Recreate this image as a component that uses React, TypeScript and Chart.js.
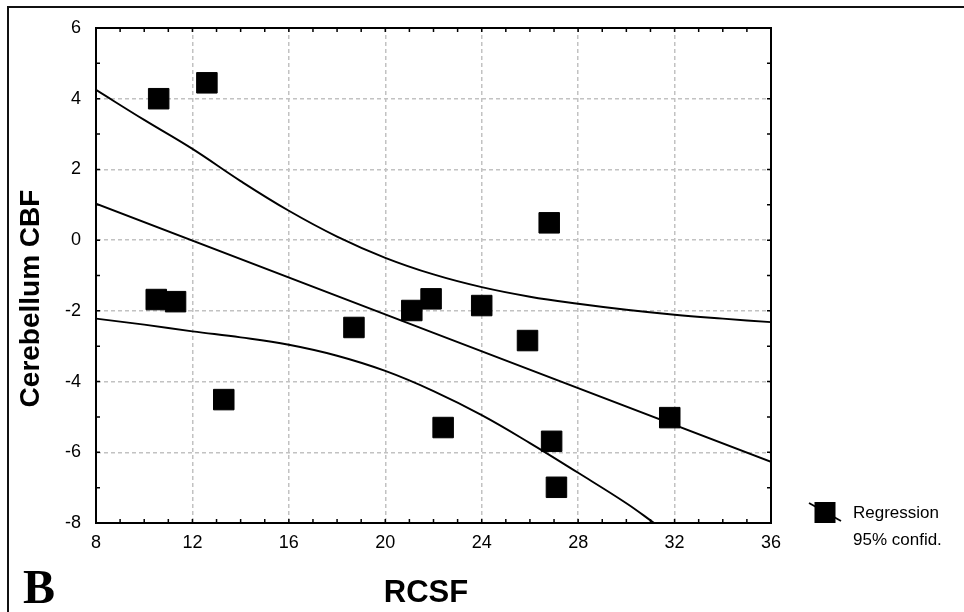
import React, { useEffect, useRef } from "react";
import { Chart, registerables } from "chart.js";

Chart.register(...registerables);

// Scatter observations (RCSF vs Cerebellum CBF)
const obsX = [10.6, 12.6, 10.5, 11.3, 13.3, 18.7, 21.1, 21.9, 22.4, 24.0, 25.9, 26.8, 26.9, 27.1, 31.8];
const obsY = [4.0, 4.45, -1.68, -1.74, -4.51, -2.47, -1.99, -1.66, -5.3, -1.85, -2.84, 0.49, -5.69, -6.99, -5.02];

// Regression line end points
const fitX = [8, 36];
const fitY = [1.03, -6.27];

// Upper 95% confidence band
const upperX = [8, 10, 12, 14, 16, 18, 20, 22, 24, 26, 28, 30, 32, 34, 36];
const upperY = [4.25, 3.4, 2.58, 1.67, 0.83, 0.1, -0.5, -0.97, -1.33, -1.6, -1.8, -1.97, -2.11, -2.22, -2.32];

// Lower 95% confidence band
const lowerX = [8, 10, 12, 14, 16, 18, 20, 22, 24, 26, 28, 30, 31.15];
const lowerY = [-2.22, -2.39, -2.58, -2.75, -2.96, -3.27, -3.7, -4.27, -4.95, -5.74, -6.58, -7.44, -8];

const xMin = 8, xMax = 36, xStep = 4;
const yMin = -8, yMax = 6, yStep = 2;

const xTitle = "RCSF";
const yTitle = "Cerebellum CBF";
const legendLines = ["Regression", "95% confid."];
const panelLabel = "B";

const FONT = "'Liberation Sans', Arial, sans-serif";

const toPts = (xs: number[], ys: number[]) => xs.map((x, i) => ({ x, y: ys[i] }));

const decorPlugin = {
  id: "decor",
  afterDraw(chart: any) {
    const ctx = chart.ctx as CanvasRenderingContext2D;
    const xs = chart.scales.x;
    const ys = chart.scales.y;
    const { left, right, top, bottom } = chart.chartArea;
    ctx.save();
    // inward tick marks on all four sides
    ctx.strokeStyle = "#000";
    ctx.lineWidth = 1.5;
    const tl = 4;
    ctx.beginPath();
    for (let v = xMin; v <= xMax; v += 1) {
      const px = xs.getPixelForValue(v);
      ctx.moveTo(px, bottom);
      ctx.lineTo(px, bottom - tl);
      ctx.moveTo(px, top);
      ctx.lineTo(px, top + tl);
    }
    for (let v = yMin; v <= yMax; v += 1) {
      const py = ys.getPixelForValue(v);
      ctx.moveTo(left, py);
      ctx.lineTo(left + tl, py);
      ctx.moveTo(right, py);
      ctx.lineTo(right - tl, py);
    }
    ctx.stroke();

    // outer frame (left and top edges)
    ctx.strokeStyle = "#111";
    ctx.lineWidth = 2;
    ctx.beginPath();
    ctx.moveTo(8, 612);
    ctx.lineTo(8, 7);
    ctx.lineTo(964, 7);
    ctx.stroke();

    ctx.fillStyle = "#000";
    // x title
    ctx.font = `bold 31px ${FONT}`;
    ctx.textAlign = "center";
    ctx.textBaseline = "alphabetic";
    ctx.fillText(xTitle, 426, 602);

    // y title
    ctx.save();
    ctx.translate(39, 298.5);
    ctx.rotate(-Math.PI / 2);
    ctx.font = `bold 28px ${FONT}`;
    ctx.textAlign = "center";
    ctx.fillText(yTitle, 0, 0);
    ctx.restore();

    // panel label
    ctx.font = `bold 48px 'Liberation Serif', 'Times New Roman', serif`;
    ctx.textAlign = "left";
    ctx.fillText(panelLabel, 23, 603);

    // legend
    const mx = 825, my = 512.5, ms = 21;
    ctx.fillRect(mx - ms / 2, my - ms / 2, ms, ms);
    ctx.strokeStyle = "#000";
    ctx.lineWidth = 1.8;
    ctx.beginPath();
    ctx.moveTo(809, 503);
    ctx.lineTo(841, 521);
    ctx.stroke();
    ctx.font = `17px ${FONT}`;
    ctx.textAlign = "left";
    ctx.fillText(legendLines[0], 853, 518);
    ctx.fillText(legendLines[1], 853, 545);
    ctx.restore();
  },
};

export default function App() {
  const ref = useRef<HTMLCanvasElement | null>(null);

  useEffect(() => {
    if (!ref.current) return;
    const lineDs = (xs: number[], ys: number[]) => ({
      type: "line" as const,
      data: toPts(xs, ys),
      borderColor: "#000",
      borderWidth: 1.9,
      pointRadius: 0,
      fill: false,
      tension: 0.4,
    });
    const chart = new Chart(ref.current, {
      type: "scatter",
      data: {
        datasets: [
          {
            type: "scatter",
            data: toPts(obsX, obsY),
            pointStyle: "rect",
            pointRadius: 14.5,
            backgroundColor: "#000",
            borderColor: "#000",
            borderWidth: 1,
          } as any,
          lineDs(fitX, fitY),
          lineDs(upperX, upperY),
          lineDs(lowerX, lowerY),
        ],
      },
      options: {
        responsive: false,
        animation: false,
        devicePixelRatio: 1,
        layout: { padding: { top: 28, right: 193, left: 0, bottom: 0 } },
        plugins: { legend: { display: false }, tooltip: { enabled: false } },
        scales: {
          x: {
            type: "linear",
            position: "bottom",
            min: xMin,
            max: xMax,
            ticks: { stepSize: xStep, color: "#000", font: { family: FONT, size: 18 }, padding: 9, maxRotation: 0 },
            grid: { color: "#c2c2c2", lineWidth: 1.5, drawTicks: false },
            border: { display: true, color: "#000", width: 2, dash: [4, 3] },
            afterFit: (s: any) => { s.height = 89; },
          },
          y: {
            type: "linear",
            position: "left",
            min: yMin,
            max: yMax,
            ticks: { stepSize: yStep, color: "#000", font: { family: FONT, size: 18 }, padding: 15 },
            grid: { color: "#c2c2c2", lineWidth: 1.5, drawTicks: false },
            border: { display: true, color: "#000", width: 2, dash: [4, 3] },
            afterFit: (s: any) => { s.width = 96; },
          },
          x2: {
            type: "linear",
            position: "top",
            min: xMin,
            max: xMax,
            ticks: { display: false },
            grid: { display: false, drawTicks: false },
            border: { display: true, color: "#000", width: 2 },
            afterFit: (s: any) => { s.height = 0; },
          },
          y2: {
            type: "linear",
            position: "right",
            min: yMin,
            max: yMax,
            ticks: { display: false },
            grid: { display: false, drawTicks: false },
            border: { display: true, color: "#000", width: 2 },
            afterFit: (s: any) => { s.width = 0; },
          },
        },
      } as any,
      plugins: [decorPlugin],
    });
    return () => chart.destroy();
  }, []);

  return (
    <div style={{ position: "absolute", left: 0, top: 0, width: 964, height: 612, background: "#fff" }}>
      <canvas ref={ref} width={964} height={612} style={{ display: "block" }} />
    </div>
  );
}
